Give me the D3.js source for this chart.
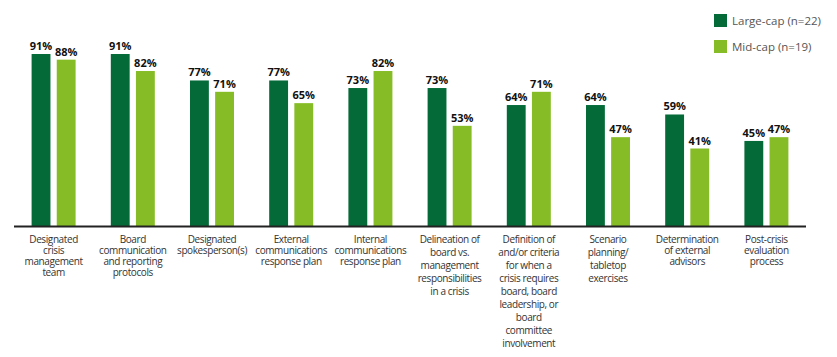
<!DOCTYPE html>
<html><head><meta charset="utf-8">
<script src="https://cdn.jsdelivr.net/npm/d3@7/dist/d3.min.js"></script>
<style>
body{margin:0;background:#fff;}
svg{display:block;font-family:"Open Sans",sans-serif;}
</style></head>
<body>
<svg id="chart" width="837" height="357"></svg>
<script>
const categories = [
  "Designated\ncrisis\nmanagement\nteam",
  "Board\ncommunication\nand reporting\nprotocols",
  "Designated\nspokesperson(s)",
  "External\ncommunications\nresponse plan",
  "Internal\ncommunications\nresponse plan",
  "Delineation of\nboard vs.\nmanagement\nresponsibilities\nin a crisis",
  "Definition of\nand/or criteria\nfor when a\ncrisis requires\nboard, board\nleadership, or\nboard\ncommittee\ninvolvement",
  "Scenario\nplanning/\ntabletop\nexercises",
  "Determination\nof external\nadvisors",
  "Post-crisis\nevaluation\nprocess"
];
const seriesNames = ["Large-cap (n=22)", "Mid-cap (n=19)"];
const largeCap = [91, 91, 77, 77, 73, 73, 64, 64, 59, 45];
const midCap   = [88, 82, 71, 65, 82, 53, 71, 47, 41, 47];
const colors = ["#046A38", "#86BC25"];

const svg = d3.select("#chart");
const x = d3.scaleBand().domain(d3.range(categories.length)).range([14, 806]);
const xs = d3.scaleBand().domain([0,1]).range([-22, 22]).paddingInner(0.25);
const y = d3.scaleLinear().domain([0, 100]).range([226, 37]);

const series = [largeCap, midCap];
series.forEach((vals, si) => {
  const g = svg.append("g");
  g.selectAll("rect").data(vals).join("rect")
    .attr("x", (d,i) => x(i) + x.bandwidth()/2 + xs(si))
    .attr("y", d => y(d))
    .attr("width", xs.bandwidth())
    .attr("height", d => y(0) - y(d))
    .attr("fill", colors[si]);
  g.selectAll("text").data(vals).join("text")
    .attr("x", (d,i) => x(i) + x.bandwidth()/2 + xs(si) + xs.bandwidth()/2)
    .attr("y", d => y(d) - 4)
    .attr("text-anchor", "middle")
    .attr("font-size", 11)
    .attr("font-weight", 700)
    .attr("fill", "#111")
    .text(d => d + "%");
});

// axis
const axis = svg.append("g").attr("transform", `translate(0,${y(0)})`)
  .call(d3.axisBottom(x).tickSize(0).tickFormat(""));
axis.select(".domain").attr("stroke", "#222").attr("stroke-width", 2)
  .attr("d", `M14,0.5H806`);

// category labels
const wideSpacing = new Set([5, 6, 7]);
const lab = svg.append("g");
categories.forEach((c, i) => {
  const t = lab.append("text")
    .attr("x", x(i) + x.bandwidth()/2)
    .attr("y", 243)
    .attr("text-anchor", "middle")
    .attr("font-size", 10)
    .attr("fill", "#333")
    .attr("letter-spacing", -0.4);
  const lh = wideSpacing.has(i) ? 13 : 11;
  c.split("\n").forEach((line, li) => {
    t.append("tspan").attr("x", x(i) + x.bandwidth()/2).attr("y", 243 + li*lh).text(line);
  });
});

// legend
const leg = svg.append("g").attr("transform", "translate(714,14)");
seriesNames.forEach((n, i) => {
  leg.append("rect").attr("x", 0).attr("y", i*26).attr("width", 13).attr("height", 13).attr("fill", colors[i]);
  leg.append("text").attr("x", 18).attr("y", i*26 + 11).attr("font-size", 11.5)
    .attr("fill", "#555").text(n);
});
</script>
</body></html>
